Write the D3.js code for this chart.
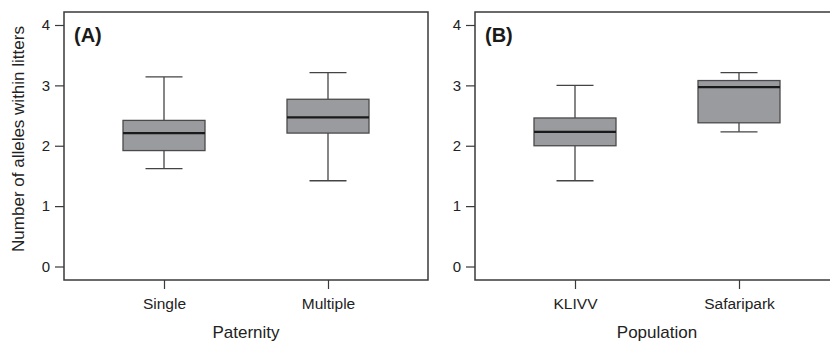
<!DOCTYPE html>
<html>
<head>
<meta charset="utf-8">
<script src="https://cdn.jsdelivr.net/npm/d3@7"></script>
<style>
  body { margin: 0; background: #fff; }
  svg { display: block; font-family: "Liberation Sans", Arial, sans-serif; }
</style>
</head>
<body>
<svg id="chart" width="830" height="341"></svg>
<script>
// Panel A: paternity
const paternityCats = ['Single', 'Multiple'];
const paternityStats = [
  { min: 1.62, q1: 1.92, median: 2.21, q3: 2.42, max: 3.14 },
  { min: 1.42, q1: 2.21, median: 2.47, q3: 2.77, max: 3.21 }
];

// Panel B: population
const populationCats = ['KLIVV', 'Safaripark'];
const populationStats = [
  { min: 1.42, q1: 2.00, median: 2.23, q3: 2.46, max: 3.00 },
  { min: 2.23, q1: 2.38, median: 2.97, q3: 3.08, max: 3.21 }
];

const yTicks = [0, 1, 2, 3, 4];

const svg = d3.select('#chart');
const plotTop = 12, plotBottom = 280;
const panelW = 364;

// shared y scale
const y = d3.scaleLinear().domain([0, 4]).range([266.5, 25]);

function drawPanel(left, cats, stats, label, xTitle) {
  const g = svg.append('g').attr('transform', `translate(${left},0)`);

  const x = d3.scalePoint().domain(cats).range([100, 264]);

  // frame
  g.append('rect')
    .attr('x', 0).attr('y', plotTop)
    .attr('width', panelW).attr('height', plotBottom - plotTop)
    .attr('fill', 'none').attr('stroke', '#3a3a3a').attr('stroke-width', 1.5);

  // y axis
  const yAxis = g.append('g')
    .call(d3.axisLeft(y).tickValues(yTicks).tickSize(9).tickPadding(5).tickFormat(d3.format('d')));
  yAxis.select('.domain').remove();
  yAxis.selectAll('line').attr('stroke', '#3a3a3a').attr('stroke-width', 1.2);
  yAxis.selectAll('text').attr('font-size', 15).attr('fill', '#222').attr('font-family', null);

  // x axis
  const xAxis = g.append('g')
    .attr('transform', `translate(0,${plotBottom})`)
    .call(d3.axisBottom(x).tickSize(9).tickPadding(9));
  xAxis.select('.domain').remove();
  xAxis.selectAll('line').attr('stroke', '#3a3a3a').attr('stroke-width', 1.2);
  xAxis.selectAll('text').attr('font-size', 15.5).attr('fill', '#222').attr('font-family', null);

  // boxes
  const boxW = 82, capW = 37;
  const b = g.selectAll('.box').data(stats).enter().append('g')
    .attr('transform', (d, i) => `translate(${x(cats[i])},0)`);

  b.append('line')
    .attr('x1', 0).attr('x2', 0)
    .attr('y1', d => y(d.max)).attr('y2', d => y(d.q3))
    .attr('stroke', '#444').attr('stroke-width', 1.3);
  b.append('line')
    .attr('x1', 0).attr('x2', 0)
    .attr('y1', d => y(d.q1)).attr('y2', d => y(d.min))
    .attr('stroke', '#444').attr('stroke-width', 1.3);
  b.append('line')
    .attr('x1', -capW / 2).attr('x2', capW / 2)
    .attr('y1', d => y(d.max)).attr('y2', d => y(d.max))
    .attr('stroke', '#444').attr('stroke-width', 1.3);
  b.append('line')
    .attr('x1', -capW / 2).attr('x2', capW / 2)
    .attr('y1', d => y(d.min)).attr('y2', d => y(d.min))
    .attr('stroke', '#444').attr('stroke-width', 1.3);
  b.append('rect')
    .attr('x', -boxW / 2).attr('width', boxW)
    .attr('y', d => y(d.q3)).attr('height', d => y(d.q1) - y(d.q3))
    .attr('fill', '#9a9b9f').attr('stroke', '#4a4a4a').attr('stroke-width', 1.3);
  b.append('line')
    .attr('x1', -boxW / 2).attr('x2', boxW / 2)
    .attr('y1', d => y(d.median)).attr('y2', d => y(d.median))
    .attr('stroke', '#1a1a1a').attr('stroke-width', 2.2);

  // panel label
  g.append('text')
    .attr('x', 10).attr('y', 42)
    .attr('font-size', 20).attr('font-weight', 'bold').attr('fill', '#1a1a1a')
    .text(label);

  // x title
  g.append('text')
    .attr('x', panelW / 2).attr('y', 338)
    .attr('text-anchor', 'middle')
    .attr('font-size', 17).attr('fill', '#222')
    .text(xTitle);
}

drawPanel(64, paternityCats, paternityStats, '(A)', 'Paternity');
drawPanel(475, populationCats, populationStats, '(B)', 'Population');

// y title
svg.append('text')
  .attr('transform', 'translate(24,139) rotate(-90)')
  .attr('text-anchor', 'middle')
  .attr('font-size', 17).attr('fill', '#222')
  .text('Number of alleles within litters');
</script>
</body>
</html>
